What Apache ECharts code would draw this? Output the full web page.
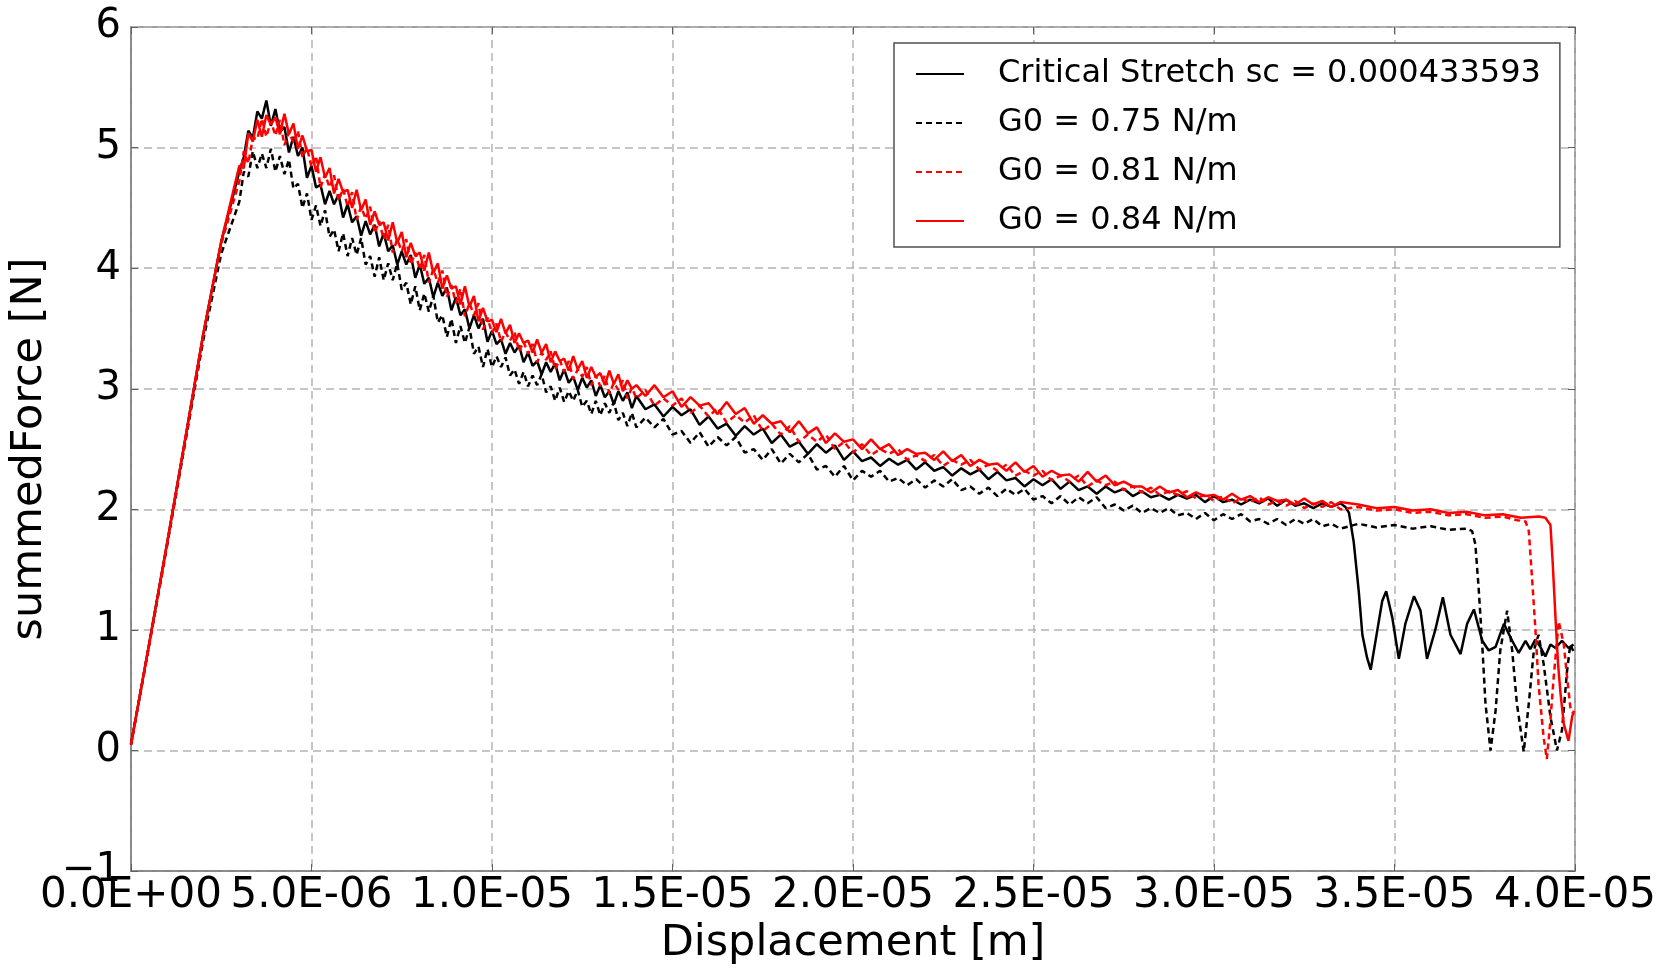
<!DOCTYPE html>
<html>
<head>
<meta charset="utf-8">
<title>summedForce vs Displacement</title>
<script src="https://cdn.jsdelivr.net/npm/echarts@6/dist/echarts.min.js"></script>
<style>
  html, body { margin: 0; padding: 0; background: #fff; }
  #chartMain { width: 1678px; height: 970px; }
</style>
</head>
<body>
<div id="chartMain"></div>
<script>
// displacement in micrometres (1 = 1E-06 m), shared by the body of every curve
var dispBody = [0, 0.5, 1, 1.5, 2, 2.5,
	3, 3.125, 3.25, 3.375, 3.5, 3.625, 3.75, 3.875,
	4, 4.125, 4.25, 4.375, 4.5, 4.625, 4.75, 4.875,
	5, 5.125, 5.25, 5.375, 5.5, 5.625, 5.75, 5.875,
	6, 6.125, 6.25, 6.375, 6.5, 6.625, 6.75, 6.875,
	7, 7.125, 7.25, 7.375, 7.5, 7.625, 7.75, 7.875,
	8, 8.125, 8.25, 8.375, 8.5, 8.625, 8.75, 8.875,
	9, 9.125, 9.25, 9.375, 9.5, 9.625, 9.75, 9.875,
	10, 10.125, 10.25, 10.375, 10.5, 10.625, 10.75, 10.875,
	11, 11.125, 11.25, 11.375, 11.5, 11.625, 11.75, 11.875,
	12, 12.125, 12.25, 12.375, 12.5, 12.625, 12.75, 12.875,
	13, 13.125, 13.25, 13.375, 13.5, 13.625, 13.75, 13.875,
	14, 14.25, 14.5, 14.75, 15, 15.25, 15.5, 15.75,
	16, 16.25, 16.5, 16.75, 17, 17.25, 17.5, 17.75,
	18, 18.25, 18.5, 18.75, 19, 19.25, 19.5, 19.75,
	20, 20.25, 20.5, 20.75, 21, 21.25, 21.5, 21.75,
	22, 22.25, 22.5, 22.75, 23, 23.25, 23.5, 23.75,
	24, 24.25, 24.5, 24.75, 25, 25.25, 25.5, 25.75,
	26, 26.25, 26.5, 26.75, 27, 27.25, 27.5, 27.75,
	28, 28.25, 28.5, 28.75, 29, 29.25, 29.5, 29.75,
	30, 30.25, 30.5, 30.75, 31, 31.25, 31.5, 31.75,
	32, 32.25, 32.5, 32.75, 33, 33.25, 33.5];

// Critical Stretch sc = 0.000433593
var forceSc = [0.05, 0.88, 1.72, 2.58, 3.45, 4.22,
	4.80, 4.92, 5.14, 5.08, 5.30, 5.24, 5.39, 5.18,
	5.32, 5.13, 5.17, 4.96, 5.09, 4.93, 5.00, 4.75,
	4.85, 4.67, 4.69, 4.53, 4.64, 4.53, 4.61, 4.42,
	4.53, 4.38, 4.43, 4.27, 4.39, 4.28, 4.36, 4.18,
	4.29, 4.14, 4.19, 4.03, 4.14, 4.03, 4.11, 3.92,
	4.03, 3.87, 3.92, 3.76, 3.88, 3.77, 3.84, 3.65,
	3.76, 3.61, 3.66, 3.50, 3.61, 3.50, 3.58, 3.39,
	3.48, 3.37, 3.41, 3.29, 3.38, 3.30, 3.36, 3.22,
	3.30, 3.19, 3.23, 3.12, 3.22, 3.14, 3.21, 3.07,
	3.16, 3.05, 3.10, 2.99, 3.09, 3.01, 3.07, 2.94,
	3.03, 2.93, 2.98, 2.87, 2.98, 2.90, 2.97, 2.84,
	2.94, 2.83, 2.87, 2.77, 2.85, 2.78, 2.83, 2.70,
	2.77, 2.67, 2.71, 2.61, 2.69, 2.62, 2.67, 2.55,
	2.62, 2.52, 2.56, 2.46, 2.54, 2.47, 2.53, 2.41,
	2.48, 2.40, 2.43, 2.36, 2.42, 2.37, 2.41, 2.33,
	2.39, 2.32, 2.35, 2.28, 2.34, 2.29, 2.33, 2.25,
	2.31, 2.24, 2.26, 2.19, 2.25, 2.20, 2.25, 2.17,
	2.23, 2.16, 2.19, 2.13, 2.19, 2.14, 2.17, 2.11,
	2.15, 2.10, 2.12, 2.08, 2.12, 2.09, 2.12, 2.06,
	2.11, 2.06, 2.08, 2.04, 2.08, 2.05, 2.09, 2.03,
	2.08, 2.03, 2.05, 2.01, 2.05, 2.02, 2.05];
var tailScX = [33.64, 33.74, 33.87, 34.01, 34.11, 34.24, 34.34, 34.52, 34.66, 34.77, 34.94, 35.12, 35.30, 35.54, 35.72,
	35.90, 36.13, 36.34, 36.55, 36.83, 37.01, 37.20, 37.43, 37.61, 37.80, 38.03, 38.26, 38.44, 38.63, 38.76, 38.90,
	39.04, 39.18, 39.32, 39.46, 39.64, 39.82, 39.96];
var tailScY = [2.02, 1.97, 1.73, 1.32, 0.96, 0.77, 0.67, 0.99, 1.24, 1.32, 1.10, 0.76, 1.05, 1.28, 1.16,
	0.76, 1.00, 1.27, 0.96, 0.80, 1.05, 1.17, 0.91, 0.83, 0.86, 1.05, 0.91, 0.81, 0.91, 0.84, 0.92,
	0.86, 0.78, 0.88, 0.85, 0.91, 0.85, 0.88];

// G0 = 0.75 N/m
var forceG075 = [0.05, 0.87, 1.70, 2.55, 3.40, 4.12,
	4.55, 4.80, 4.76, 4.97, 4.83, 4.95, 4.83, 4.99,
	4.80, 4.93, 4.78, 4.90, 4.66, 4.70, 4.50, 4.62,
	4.40, 4.52, 4.35, 4.48, 4.26, 4.32, 4.14, 4.29,
	4.10, 4.25, 4.11, 4.25, 4.03, 4.10, 3.93, 4.09,
	3.90, 4.04, 3.90, 4.04, 3.82, 3.88, 3.70, 3.85,
	3.65, 3.79, 3.64, 3.77, 3.55, 3.61, 3.43, 3.58,
	3.38, 3.52, 3.38, 3.51, 3.29, 3.35, 3.18, 3.33,
	3.18, 3.27, 3.18, 3.26, 3.11, 3.16, 3.04, 3.14,
	3.02, 3.11, 3.03, 3.12, 2.97, 3.02, 2.90, 3.01,
	2.89, 2.98, 2.90, 2.99, 2.85, 2.90, 2.79, 2.90,
	2.78, 2.88, 2.80, 2.89, 2.74, 2.80, 2.69, 2.80,
	2.68, 2.76, 2.68, 2.75, 2.62, 2.65, 2.55, 2.64,
	2.52, 2.60, 2.53, 2.60, 2.47, 2.50, 2.41, 2.50,
	2.38, 2.46, 2.39, 2.46, 2.33, 2.36, 2.27, 2.36,
	2.24, 2.32, 2.27, 2.32, 2.23, 2.26, 2.20, 2.25,
	2.18, 2.24, 2.19, 2.25, 2.16, 2.19, 2.13, 2.18,
	2.11, 2.17, 2.12, 2.17, 2.08, 2.11, 2.05, 2.11,
	2.04, 2.10, 2.05, 2.10, 2.01, 2.04, 1.99, 2.03,
	1.97, 2.01, 1.97, 2.01, 1.95, 1.97, 1.92, 1.97,
	1.91, 1.96, 1.92, 1.96, 1.90, 1.92, 1.88, 1.92,
	1.87, 1.92, 1.88, 1.92, 1.86, 1.88, 1.84];
var tailG075X = [34.0, 34.5, 35.0, 35.5, 36.0, 36.5, 37.0, 37.15, 37.24, 37.33, 37.43, 37.52, 37.66, 37.80, 37.93,
	38.12, 38.26, 38.39, 38.58, 38.72, 38.86, 38.99, 39.13, 39.32, 39.50, 39.64, 39.78, 39.87, 39.96];
var tailG075Y = [1.88, 1.85, 1.87, 1.84, 1.86, 1.83, 1.84, 1.82, 1.71, 1.35, 0.88, 0.39, 0.00, 0.33, 0.83,
	1.16, 0.83, 0.39, -0.01, 0.39, 0.83, 0.96, 0.72, 0.28, 0.00, 0.17, 0.66, 0.88, 0.82];

// G0 = 0.81 N/m
var forceG081 = [0.05, 0.87, 1.71, 2.57, 3.44, 4.20,
	4.72, 4.97, 4.87, 5.08, 5.07, 5.24, 5.09, 5.22,
	5.10, 5.23, 5.02, 5.13, 5.04, 5.14, 4.92, 5.00,
	4.84, 4.93, 4.67, 4.78, 4.67, 4.77, 4.56, 4.66,
	4.51, 4.63, 4.40, 4.51, 4.41, 4.51, 4.29, 4.39,
	4.24, 4.36, 4.13, 4.24, 4.14, 4.24, 4.03, 4.13,
	3.99, 4.11, 3.88, 3.99, 3.88, 3.98, 3.76, 3.86,
	3.71, 3.83, 3.60, 3.71, 3.61, 3.71, 3.49, 3.59,
	3.46, 3.54, 3.39, 3.47, 3.40, 3.47, 3.31, 3.39,
	3.29, 3.37, 3.22, 3.30, 3.24, 3.31, 3.16, 3.24,
	3.14, 3.23, 3.08, 3.16, 3.10, 3.18, 3.03, 3.11,
	3.02, 3.11, 2.96, 3.05, 2.99, 3.07, 2.92, 3.01,
	2.92, 2.99, 2.86, 2.92, 2.86, 2.92, 2.80, 2.86,
	2.77, 2.84, 2.72, 2.78, 2.72, 2.78, 2.65, 2.71,
	2.62, 2.69, 2.56, 2.62, 2.56, 2.62, 2.50, 2.56,
	2.47, 2.54, 2.45, 2.50, 2.46, 2.50, 2.41, 2.45,
	2.40, 2.45, 2.36, 2.41, 2.37, 2.41, 2.33, 2.37,
	2.32, 2.37, 2.28, 2.32, 2.28, 2.32, 2.24, 2.28,
	2.23, 2.28, 2.19, 2.24, 2.20, 2.23, 2.16, 2.19,
	2.14, 2.18, 2.12, 2.15, 2.12, 2.15, 2.09, 2.12,
	2.07, 2.11, 2.05, 2.09, 2.06, 2.10, 2.04, 2.07,
	2.03, 2.07, 2.01, 2.05, 2.02, 2.06, 2.00];
var tailG081X = [34.0, 34.5, 35.0, 35.5, 36.0, 36.5, 37.0, 37.5, 38.0, 38.4, 38.63, 38.72, 38.81, 38.90, 38.99,
	39.13, 39.22, 39.32, 39.41, 39.55, 39.69, 39.78, 39.87, 39.96];
var tailG081Y = [2.02, 1.99, 2.00, 1.97, 1.98, 1.95, 1.96, 1.93, 1.94, 1.91, 1.90, 1.82, 1.43, 1.02, 0.55,
	0.11, -0.07, 0.25, 0.61, 1.07, 0.88, 0.61, 0.36, 0.30];

// G0 = 0.84 N/m
var forceG084 = [0.05, 0.88, 1.72, 2.58, 3.45, 4.22,
	4.85, 4.83, 5.12, 5.05, 5.23, 5.09, 5.27, 5.19,
	5.25, 5.11, 5.28, 5.11, 5.20, 4.99, 5.10, 4.97,
	4.98, 4.80, 4.92, 4.75, 4.83, 4.62, 4.74, 4.63,
	4.65, 4.50, 4.65, 4.48, 4.57, 4.36, 4.47, 4.36,
	4.38, 4.23, 4.38, 4.21, 4.30, 4.09, 4.21, 4.10,
	4.13, 3.98, 4.13, 3.96, 4.04, 3.83, 3.94, 3.83,
	3.85, 3.70, 3.85, 3.68, 3.77, 3.56, 3.67, 3.56,
	3.57, 3.47, 3.58, 3.46, 3.53, 3.38, 3.46, 3.38,
	3.40, 3.30, 3.41, 3.30, 3.37, 3.22, 3.31, 3.23,
	3.25, 3.15, 3.27, 3.16, 3.23, 3.09, 3.18, 3.10,
	3.13, 3.03, 3.15, 3.04, 3.12, 2.98, 3.07, 3.00,
	3.03, 2.94, 3.03, 2.93, 2.98, 2.85, 2.93, 2.86,
	2.88, 2.79, 2.89, 2.79, 2.84, 2.71, 2.78, 2.71,
	2.73, 2.64, 2.73, 2.63, 2.68, 2.55, 2.63, 2.56,
	2.58, 2.50, 2.58, 2.50, 2.54, 2.45, 2.50, 2.46,
	2.47, 2.41, 2.48, 2.40, 2.45, 2.36, 2.41, 2.37,
	2.38, 2.32, 2.39, 2.31, 2.36, 2.27, 2.32, 2.28,
	2.29, 2.23, 2.31, 2.23, 2.28, 2.20, 2.23, 2.19,
	2.19, 2.14, 2.19, 2.14, 2.16, 2.10, 2.14, 2.11,
	2.12, 2.08, 2.13, 2.08, 2.11, 2.06, 2.10, 2.07,
	2.08, 2.04, 2.09, 2.04, 2.07, 2.02, 2.06];
var tailG084X = [34.0, 34.5, 35.0, 35.5, 36.0, 36.5, 37.0, 37.5, 38.0, 38.5, 39.0, 39.18, 39.32, 39.38, 39.46,
	39.53, 39.60, 39.69, 39.82, 39.92, 39.97];
var tailG084Y = [2.04, 2.01, 2.02, 1.99, 2.00, 1.97, 1.98, 1.95, 1.96, 1.93, 1.94, 1.93, 1.87, 1.57, 1.10,
	0.72, 0.47, 0.22, 0.08, 0.28, 0.33];

var seriesNames = ['Critical Stretch sc = 0.000433593', 'G0 = 0.75 N/m', 'G0 = 0.81 N/m', 'G0 = 0.84 N/m'];

function buildCurve(bodyY, tailX, tailY){
	var pts = [];
	for (var i = 0; i < dispBody.length; i++) pts.push([dispBody[i], bodyY[i]]);
	for (var j = 0; j < tailX.length; j++) pts.push([tailX[j], tailY[j]]);
	return pts;
}

// 5 -> "5.0E-06"
function sciLabel(v){
	if (v === 0) return '0.0E+00';
	var s = (v * 1e-6).toExponential(1).split('e');
	var ex = parseInt(s[1], 10);
	var sign = ex < 0 ? '-' : '+';
	ex = Math.abs(ex);
	return s[0] + 'E' + sign + (ex < 10 ? '0' + ex : ex);
}

drawForce();
function drawForce(){
	var myChart = echarts.init(document.getElementById('chartMain'));
	var font = 'DejaVu Sans';
	var gridLine = { show: true, lineStyle: { color: '#b4b4b4', width: 1.5, type: [8, 5] } };
	var tick = { show: true, inside: true, length: 7, lineStyle: { color: '#606060' } };
	var option = {
		animation: false,
		backgroundColor: '#fff',
		grid: {
			left: 131, right: 103, top: 27, bottom: 97,
			show: true, borderColor: '#808080', borderWidth: 1.5, backgroundColor: 'transparent'
		},
		legend: {
			orient: 'vertical',
			left: 894,
			top: 43,
			padding: [13, 19, 8, 21],
			itemWidth: 48,
			itemHeight: 14,
			itemGap: 13,
			backgroundColor: '#fff',
			borderColor: '#505050',
			borderWidth: 1.5,
			itemStyle: { opacity: 0 },
			textStyle: { fontFamily: font, fontSize: 32, color: '#000', lineHeight: 36, padding: [0, 0, 0, 29] },
			data: seriesNames
		},
		xAxis: [{
			type: 'value',
			min: 0, max: 40, interval: 5,
			name: 'Displacement [m]',
			nameLocation: 'middle',
			nameGap: 49,
			nameTextStyle: { fontFamily: font, fontSize: 43, color: '#000' },
			axisLine: { show: true, onZero: false, lineStyle: { color: '#808080', width: 1.5 } },
			axisTick: tick,
			axisLabel: { fontFamily: font, fontSize: 42, color: '#000', margin: 4, formatter: sciLabel },
			splitLine: gridLine
		}, {
			type: 'value', position: 'top',
			min: 0, max: 40, interval: 5,
			axisLine: { show: false, onZero: false },
			axisTick: tick,
			axisLabel: { show: false },
			splitLine: { show: false }
		}],
		yAxis: [{
			type: 'value',
			min: -1, max: 6, interval: 1,
			name: 'summedForce [N]',
			nameLocation: 'middle',
			nameGap: 66,
			nameTextStyle: { fontFamily: font, fontSize: 43, color: '#000' },
			axisLine: { show: true, onZero: false, lineStyle: { color: '#808080', width: 1.5 } },
			axisTick: tick,
			axisLabel: {
				fontFamily: font, fontSize: 40, color: '#000', margin: 10, padding: [0, 0, 8, 0],
				formatter: function(v){ return v < 0 ? '\u2212' + Math.abs(v) : String(v); }
			},
			splitLine: gridLine
		}, {
			type: 'value', position: 'right',
			min: -1, max: 6, interval: 1,
			axisLine: { show: false, onZero: false },
			axisTick: tick,
			axisLabel: { show: false },
			splitLine: { show: false }
		}],
		series: [
			{
				name: seriesNames[0], type: 'line', showSymbol: false, symbol: 'none',
				lineStyle: { color: '#000', width: 2.5, type: 'solid' },
				itemStyle: { color: '#000' },
				data: buildCurve(forceSc, tailScX, tailScY)
			},
			{
				name: seriesNames[1], type: 'line', showSymbol: false, symbol: 'none',
				lineStyle: { color: '#000', width: 2.5, type: [6, 4] },
				itemStyle: { color: '#000' },
				data: buildCurve(forceG075, tailG075X, tailG075Y)
			},
			{
				name: seriesNames[2], type: 'line', showSymbol: false, symbol: 'none',
				lineStyle: { color: '#ff0000', width: 2.5, type: [6, 4] },
				itemStyle: { color: '#ff0000' },
				data: buildCurve(forceG081, tailG081X, tailG081Y)
			},
			{
				name: seriesNames[3], type: 'line', showSymbol: false, symbol: 'none',
				lineStyle: { color: '#ff0000', width: 2.5, type: 'solid' },
				itemStyle: { color: '#ff0000' },
				data: buildCurve(forceG084, tailG084X, tailG084Y)
			}
		]
	};
	myChart.setOption(option);
}
</script>
</body>
</html>
